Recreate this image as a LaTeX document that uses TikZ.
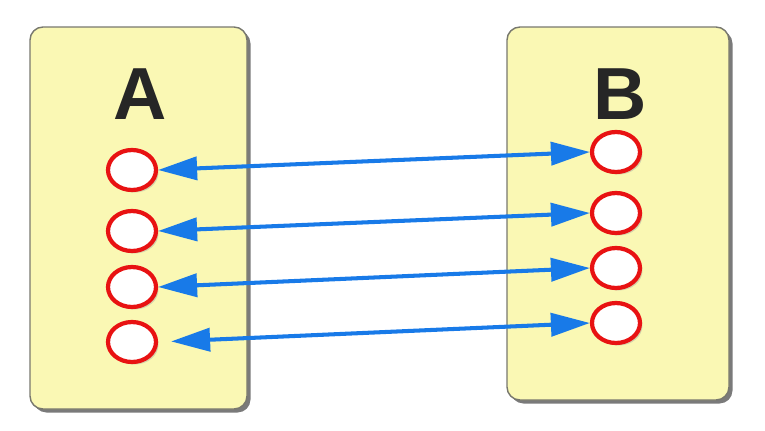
\documentclass[tikz,border=0pt]{standalone}
\usepackage{fontspec}
\setmainfont{Liberation Sans}
\usepackage{tikz}
\usetikzlibrary{shapes.geometric,arrows.meta,shadows}

\definecolor{boxfill}{RGB}{250,248,180}
\definecolor{boxline}{RGB}{120,120,110}
\definecolor{portred}{RGB}{232,18,18}
\definecolor{linkblue}{RGB}{24,122,232}

\tikzset{
    sidebox/.style={draw=boxline, line width=0.8pt, fill=boxfill, rounded corners=0.26cm,
        drop shadow={shadow xshift=0.07cm, shadow yshift=-0.07cm, fill=black!65, opacity=0.8}},
    port/.style={ellipse, draw=portred, line width=2.4pt, fill=white, inner sep=0pt,
        minimum width=0.96cm, minimum height=0.8cm,
        drop shadow={shadow xshift=0.05cm, shadow yshift=-0.05cm, fill=black!40, opacity=0.4}},
    biglabel/.style={font=\fontsize{42}{42}\selectfont\bfseries, text=black!85},
    link/.style={draw=linkblue, line width=2.3pt, {Triangle[length=0.78cm,width=0.46cm]}-{Triangle[length=0.78cm,width=0.46cm]}}
}

\begin{document}
\begin{tikzpicture}[x=0.02cm, y=-0.02cm]
    \useasboundingbox (0,0) rectangle (765,430);

    \path[sidebox] (30,27) rectangle (247,409);
    \path[sidebox] (507,27) rectangle (729,400);

    \node[biglabel] (labA) at (140,94) {A};
    \node[biglabel] (labB) at (620,94) {B};

    \node[port] (a1) at (132,170) {};
    \node[port] (a2) at (132,231) {};
    \node[port] (a3) at (132,287) {};
    \node[port] (a4) at (132,342) {};

    \node[port] (b1) at (616,152) {};
    \node[port] (b2) at (616,213) {};
    \node[port] (b3) at (616,268) {};
    \node[port] (b4) at (616,323) {};

    \draw[link] (a1.east) -- (b1.west);
    \draw[link] (a2.east) -- (b2.west);
    \draw[link] (a3.east) -- (b3.west);
    \draw[link, shorten <=0.26cm] (a4.east) -- (b4.west);
\end{tikzpicture}
\end{document}
